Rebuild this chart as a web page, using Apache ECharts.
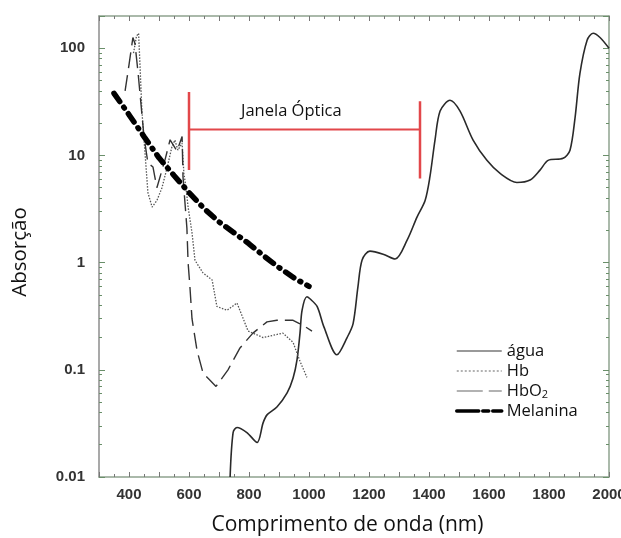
<!DOCTYPE html>
<html>
<head>
<meta charset="utf-8">
<script src="https://cdn.jsdelivr.net/npm/echarts@6/dist/echarts.min.js"></script>
<style>
html,body{margin:0;padding:0;background:#fff;}
#chart{width:621px;height:538px;}
</style>
</head>
<body>
<div id="chart"></div>
<script>
// comprimento de onda (nm) / absorção
var aguaX = [737,747,760,793,827,847,860,893,927,947,960,970,977,993,1003,1027,1050,1093,1127,1147,1163,1177,1203,1247,1287,1327,1360,1387,1403,1420,1437,1470,1503,1547,1593,1637,1693,1737,1770,1797,1847,1870,1887,1903,1927,1947,1970,2000];
var aguaY = [0.01,0.026,0.029,0.026,0.021,0.032,0.038,0.045,0.061,0.084,0.124,0.22,0.36,0.48,0.46,0.39,0.25,0.138,0.2,0.27,0.59,1.06,1.28,1.2,1.08,1.62,2.66,3.8,6.3,13.9,26,32.7,26,13.9,9.0,6.8,5.6,5.9,7.3,9.0,9.4,11.2,22.7,58,119,138,126,100];

var hbX = [415,425,432,437,443,450,457,463,477,493,510,527,543,553,563,577,583,590,597,610,620,647,677,693,727,760,797,847,913,947,970,993];
var hbY = [90,130,138,66,26,14,7.7,4.5,3.3,3.8,5.0,7.7,12,13.9,11.2,13,6.8,5,3.3,1.9,1.05,0.8,0.69,0.39,0.36,0.42,0.23,0.2,0.22,0.18,0.12,0.085];

var hbo2X = [387,400,413,420,430,440,450,463,480,493,520,537,560,577,580,593,597,603,610,627,647,670,690,730,770,813,860,893,947,980,1010];
var hbo2Y = [40,70,126,110,60,30,15,8.5,7.8,5.0,9.1,14,11,15,6.3,2.1,1.0,0.6,0.3,0.15,0.093,0.08,0.07,0.1,0.16,0.22,0.28,0.29,0.29,0.26,0.23];

var melX = [350,400,450,500,550,600,650,700,750,800,850,900,950,1000];
var melY = [38,24,15,9.5,6.5,4.5,3.2,2.4,1.9,1.5,1.15,0.9,0.72,0.6];

// janela óptica
var janelaX = [600, 1370];
var janelaY = 17.5;
var janelaLeft = [39, 7.3];
var janelaRight = [32, 6.1];

var names = ['água', 'Hb', 'HbO2', 'Melanina'];

function pairs(xs, ys) {
    return xs.map(function (x, i) { return [x, ys[i]]; });
}

var axisColor = '#8fa38f';
var lblStyle = {color: '#333', fontSize: 15, fontWeight: 'bold', fontFamily: 'Liberation Sans'};
var noSymbol = {color: 'transparent', borderColor: 'transparent', borderWidth: 0};

var option = {
    animation: false,
    backgroundColor: '#fff',
    grid: {left: 99, right: 12, top: 16, bottom: 61, outerBoundsMode: 'none', containLabel: false},
    legend: {
        orient: 'vertical',
        left: 455,
        top: 341,
        padding: 0,
        itemWidth: 45,
        itemHeight: 14,
        itemGap: 0,
        data: [
            {name: names[0], itemStyle: noSymbol, lineStyle: {color: '#999', width: 2, type: 'solid'}},
            {name: names[1], itemStyle: noSymbol, lineStyle: {color: '#999', width: 1.5, type: [2, 2]}},
            {name: names[2], itemStyle: noSymbol, lineStyle: {color: '#999', width: 1.5, type: [26, 6]}},
            {name: names[3], itemStyle: noSymbol, lineStyle: {color: '#000', width: 3.5, type: [22, 4, 6, 4]}}
        ],
        formatter: function (n) {
            return n === 'HbO2' ? 'HbO{sub|2}' : n;
        },
        textStyle: {
            color: '#111', fontSize: 16.5, fontFamily: 'Open Sans', lineHeight: 20,
            rich: {sub: {fontSize: 11, lineHeight: 12, padding: [8, 0, 0, 0], fontFamily: 'Open Sans', color: '#111'}}
        }
    },
    graphic: [{
        type: 'text', left: 241, top: 103,
        style: {text: 'Janela Óptica', fontSize: 16.5, fontFamily: 'Open Sans', fill: '#111'}
    }, {
        type: 'text', x: 20, y: 252, rotation: Math.PI / 2,
        style: {text: 'Absorção', fontSize: 20.5, fontFamily: 'Open Sans', fill: '#111', align: 'center', verticalAlign: 'middle'}
    }],
    xAxis: [{
        type: 'value', min: 300, max: 2000, interval: 100,
        name: 'Comprimento de onda (nm)', nameLocation: 'middle', nameGap: 38,
        nameTextStyle: {fontSize: 21, fontFamily: 'Open Sans', color: '#111', padding: [0, 13, 0, 0]},
        axisLine: {lineStyle: {color: axisColor, width: 1.5}},
        axisTick: {inside: true, length: 5, lineStyle: {color: '#777'}},
        minorTick: {show: true, splitNumber: 2, length: 3, lineStyle: {color: '#777'}},
        splitLine: {show: false},
        axisLabel: {
            margin: 10, ...lblStyle,
            formatter: function (v) { return v % 200 === 0 ? String(v) : ''; }
        }
    }, {
        type: 'value', position: 'top', min: 300, max: 2000, interval: 100,
        axisLine: {show: true, lineStyle: {color: axisColor, width: 1.5}},
        axisTick: {inside: true, length: 5, lineStyle: {color: '#777'}},
        minorTick: {show: true, splitNumber: 2, length: 3, lineStyle: {color: '#777'}},
        splitLine: {show: false},
        axisLabel: {show: false}
    }],
    yAxis: [{
        type: 'log', logBase: 10, min: 0.01, max: 200,
        axisLine: {show: true, lineStyle: {color: '#8c8c8c', width: 1.5}},
        axisTick: {inside: true, length: 6, lineStyle: {color: '#6a8f6a'}},
        minorTick: {show: true, splitNumber: 9, length: 3, lineStyle: {color: '#6a8f6a'}},
        splitLine: {show: false},
        axisLabel: {
            margin: 14, showMaxLabel: false, ...lblStyle,
            formatter: function (v) {
                var l = Math.log10(v);
                if (Math.abs(l - Math.round(l)) > 1e-6) return '';
                return String(+v.toPrecision(3));
            }
        }
    }, {
        type: 'log', logBase: 10, min: 0.01, max: 200, position: 'right',
        axisLine: {show: true, lineStyle: {color: axisColor, width: 1.5}},
        axisTick: {inside: true, length: 6, lineStyle: {color: '#6a8f6a'}},
        minorTick: {show: true, splitNumber: 9, length: 3, lineStyle: {color: '#6a8f6a'}},
        splitLine: {show: false},
        axisLabel: {show: false}
    }],
    series: [
        {
            name: names[0], type: 'line', symbol: 'none', z: 3, smooth: 0.3,
            data: pairs(aguaX, aguaY),
            lineStyle: {color: '#2a2a2a', width: 1.6}
        },
        {
            name: names[1], type: 'line', symbol: 'none',
            data: pairs(hbX, hbY),
            lineStyle: {color: '#555', width: 1.3, type: [1.5, 1.5]}
        },
        {
            name: names[2], type: 'line', symbol: 'none',
            data: pairs(hbo2X, hbo2Y),
            lineStyle: {color: '#333', width: 1.4, type: [16, 7]}
        },
        {
            name: names[3], type: 'line', symbol: 'none', z: 4,
            data: pairs(melX, melY),
            lineStyle: {color: '#000', width: 5.5, type: [10, 7, 1, 7], cap: 'round'}
        },
        {
            name: 'janela_h', type: 'line', symbol: 'none', silent: true,
            data: [[janelaX[0], janelaY], [janelaX[1], janelaY]],
            lineStyle: {color: '#e2474a', width: 2}
        },
        {
            name: 'janela_l', type: 'line', symbol: 'none', silent: true,
            data: [[janelaX[0], janelaLeft[0]], [janelaX[0], janelaLeft[1]]],
            lineStyle: {color: '#e2474a', width: 2.5}
        },
        {
            name: 'janela_r', type: 'line', symbol: 'none', silent: true,
            data: [[janelaX[1], janelaRight[0]], [janelaX[1], janelaRight[1]]],
            lineStyle: {color: '#e2474a', width: 2.5}
        }
    ]
};

var chart = echarts.init(document.getElementById('chart'));
chart.setOption(option);
</script>
</body>
</html>
